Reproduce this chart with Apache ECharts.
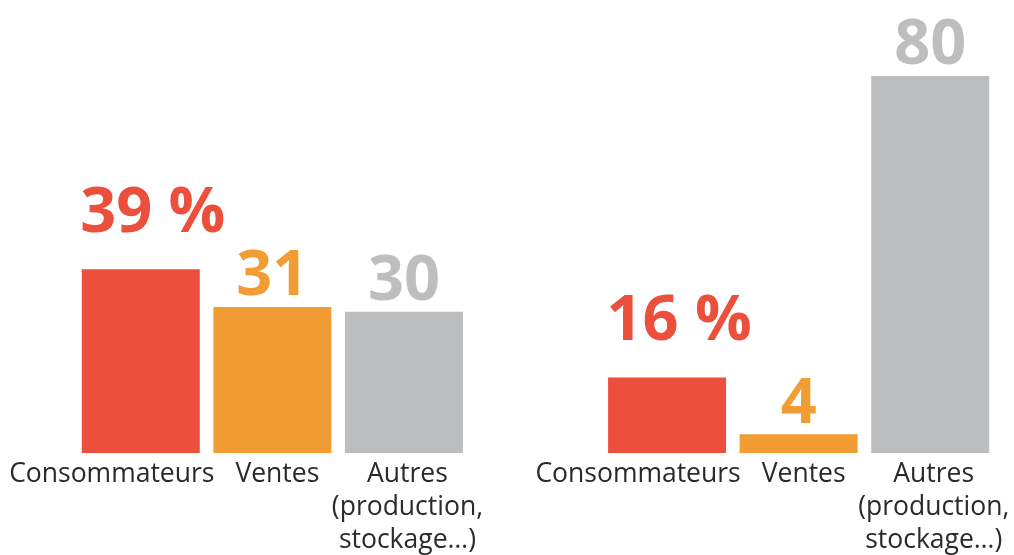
<!DOCTYPE html>
<html>
<head>
    <meta charset="UTF-8">
    <title>Répartition</title>
    <script type="text/javascript" src="https://cdn.jsdelivr.net/npm/echarts@6/dist/echarts.min.js"></script>
    <style>
        html, body { margin: 0; padding: 0; background: #ffffff; }
        #chart { width: 1014px; height: 555px; }
    </style>
</head>
<body>
    <div id="chart"></div>
    <script>
        // deux groupes de barres, séparés par une catégorie vide
        var categories = ['Consommateurs', 'Ventes', 'Autres\n(production,\nstockage…)', '',
                          'Consommateurs', 'Ventes', 'Autres\n(production,\nstockage…)'];
        var values = [39, 31, 30, null, 16, 4, 80];
        var suffixes = [' %', '', '', '', ' %', '', ''];
        var barColors = ['#ec503c', '#f29d33', '#bcbdbf', '#ffffff', '#ec503c', '#f29d33', '#bcbdbf'];

        var labelStyles = {
            cons: { padding: [0, 58, 0, 0] },
            vent: { padding: [0, 0, 0, 10] },
            autr: { padding: [0, 0, 0, 7] }
        };
        var styleKeys = ['cons', 'vent', 'autr', 'cons', 'cons', 'vent', 'autr'];

        var rich = {};
        Object.keys(labelStyles).forEach(function (k) {
            rich[k] = Object.assign({
                fontFamily: 'Open Sans',
                fontSize: 26.5,
                lineHeight: 33,
                color: '#2a2a2a'
            }, labelStyles[k]);
        });

        var seriesData = values.map(function (v, i) {
            var isPct = suffixes[i] !== '';
            return {
                value: v,
                itemStyle: { color: barColors[i] },
                label: {
                    color: barColors[i] === '#bcbdbf' ? '#bdbec0' : barColors[i],
                    distance: isPct ? 24 : -2,
                    offset: isPct ? [12, 0] : [0, 0]
                }
            };
        });

        var chart = echarts.init(document.getElementById('chart'), null, {renderer: 'canvas'});
        var option = {
            animation: false,
            grid: { left: 75, top: 76, width: 921, bottom: 102 },
            xAxis: {
                type: 'category',
                data: categories,
                axisLine: { show: false },
                axisTick: { show: false },
                axisLabel: {
                    interval: 0,
                    margin: 5,
                    formatter: function (val, idx) {
                        if (!val) return '';
                        var key = styleKeys[idx];
                        return val.split('\n').map(function (line) {
                            return '{' + key + '|' + line + '}';
                        }).join('\n');
                    },
                    rich: rich
                }
            },
            yAxis: {
                type: 'value',
                min: 0,
                max: 80,
                show: false,
                splitLine: { show: false }
            },
            series: [{
                type: 'bar',
                barWidth: 118,
                data: seriesData,
                label: {
                    show: true,
                    position: 'top',
                    fontFamily: 'Open Sans',
                    fontWeight: 'bold',
                    fontSize: 63,
                    formatter: function (p) {
                        return p.value + suffixes[p.dataIndex];
                    }
                }
            }]
        };
        chart.setOption(option);
    </script>
</body>
</html>
